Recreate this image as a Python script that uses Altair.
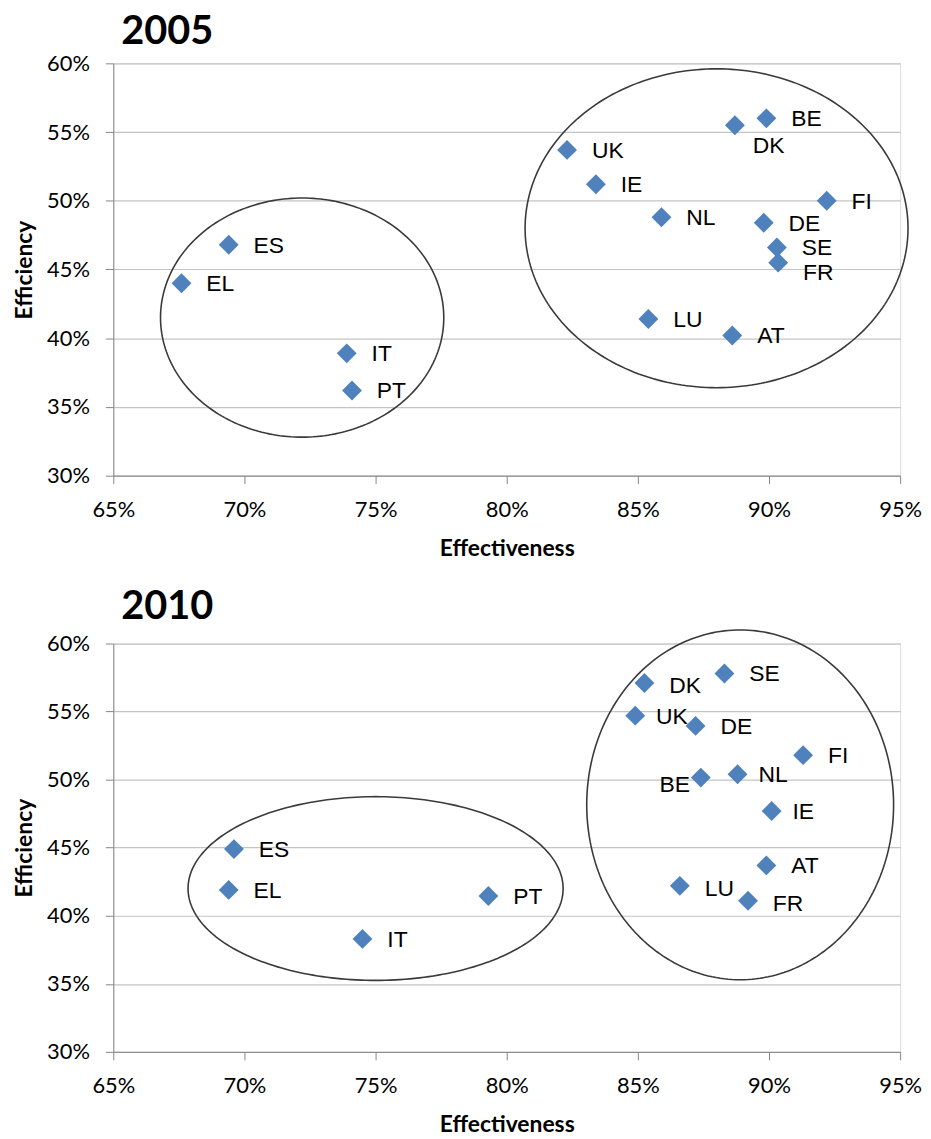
import altair as alt
import numpy as np
import pandas as pd

# ---------------- data (percent) ----------------
countries_2005 = ["ES", "EL", "IT", "PT", "BE", "DK", "UK", "IE", "FI", "NL", "DE", "SE", "FR", "LU", "AT"]
effectiveness_2005 = [69.4, 67.6, 73.9, 74.1, 89.9, 88.7, 82.3, 83.4, 92.2, 85.9, 89.8, 90.3, 90.35, 85.4, 88.6]
efficiency_2005 = [46.8, 44.0, 38.9, 36.2, 56.0, 55.5, 53.7, 51.2, 50.0, 48.8, 48.4, 46.6, 45.5, 41.4, 40.2]

countries_2010 = ["ES", "EL", "IT", "PT", "DK", "SE", "UK", "DE", "FI", "BE", "NL", "IE", "AT", "LU", "FR"]
effectiveness_2010 = [69.6, 69.4, 74.5, 79.3, 85.25, 88.3, 84.9, 87.2, 91.3, 87.4, 88.8, 90.1, 89.9, 86.6, 89.2]
efficiency_2010 = [44.9, 41.9, 38.3, 41.45, 57.1, 57.8, 54.7, 53.95, 51.8, 50.15, 50.4, 47.7, 43.7, 42.2, 41.1]

# group ellipses: centre and radii, in percent
ellipse_cx_2005 = [72.2, 88.0]
ellipse_cy_2005 = [41.5, 48.0]
ellipse_rx_2005 = [5.4, 7.3]
ellipse_ry_2005 = [8.7, 11.6]

ellipse_cx_2010 = [75.0, 88.9]
ellipse_cy_2010 = [42.0, 48.15]
ellipse_rx_2010 = [7.15, 5.85]
ellipse_ry_2010 = [6.75, 12.85]

x_ticks = [0.65, 0.70, 0.75, 0.80, 0.85, 0.90, 0.95]
y_ticks = [0.30, 0.35, 0.40, 0.45, 0.50, 0.55, 0.60]

# label placement tweaks (style, not data): country -> (dx, dy, align)
nudges_2005 = {"DK": (18, 21, "left"), "FR": (25, 10, "left")}
nudges_2010 = {"BE": (-11, 7, "right"), "UK": (21, 1, "left"),
               "NL": (21, 1, "left"), "IE": (21, 1, "left"),
               "DK": (25, 3, "left"), "FR": (25, 3, "left"), "LU": (25, 3, "left")}

AXIS_GREY = "#868686"
GRID_GREY = "#c4c4c4"
BLUE = "#4F81BD"


def ellipse_frame(cxs, cys, rxs, rys):
    t = np.linspace(0, 2 * np.pi, 241)
    rows = []
    for i, (cx, cy, rx, ry) in enumerate(zip(cxs, cys, rxs, rys)):
        for k, tt in enumerate(t):
            rows.append({"ell": i, "k": k,
                         "x": (cx + rx * np.cos(tt)) / 100,
                         "y": (cy + ry * np.sin(tt)) / 100})
    return pd.DataFrame(rows)


def panel(year, countries, eff, effi, ecx, ecy, erx, ery, nudges, h):
    pts = pd.DataFrame({"country": countries,
                        "x": [v / 100 for v in eff],
                        "y": [v / 100 for v in effi]})
    ell = ellipse_frame(ecx, ecy, erx, ery)

    x_enc = alt.X("x:Q", title="Effectiveness",
                  scale=alt.Scale(domain=[0.65, 0.95], nice=False, zero=False),
                  axis=alt.Axis(values=x_ticks, format=".0%", grid=False,
                                tickSize=8, tickColor=AXIS_GREY, domainColor=AXIS_GREY,
                                labelFont="Lato", labelFontSize=22, labelColor="black",
                                labelPadding=16, labelFlush=False, labelOverlap=False,
                                titleFont="Lato", titleFontSize=23, titleFontWeight="bold",
                                titleColor="black", titlePadding=17))
    y_enc = alt.Y("y:Q", title="Efficiency",
                  scale=alt.Scale(domain=[0.30, 0.60], nice=False, zero=False),
                  axis=alt.Axis(values=y_ticks, format=".0%", grid=True,
                                gridColor=GRID_GREY, gridWidth=1.2,
                                tickSize=8, tickColor=AXIS_GREY, domainColor=AXIS_GREY,
                                labelFont="Lato", labelFontSize=22, labelColor="black",
                                labelPadding=16, labelFlush=False, labelOverlap=False,
                                titleFont="Lato", titleFontSize=23, titleFontWeight="bold",
                                titleColor="black", titlePadding=10))

    pts_layer = alt.Chart(pts).mark_point(shape="diamond", filled=True, size=400,
                                          color=BLUE, opacity=1, strokeWidth=0
                                          ).encode(x=x_enc, y=y_enc)

    ell_layer = alt.Chart(ell).mark_line(color="#3a3a3a", strokeWidth=1.6,
                                         interpolate="linear", clip=False).encode(
        x=x_enc, y=y_enc, detail="ell:N", order="k:Q")

    special = list(nudges.keys())
    quoted = ",".join("'" + c + "'" for c in special)
    text_base = alt.Chart(pts)
    layers = [ell_layer, pts_layer]
    layers.append(text_base.transform_filter(f"indexof([{quoted}], datum.country) < 0")
                  .mark_text(align="left", baseline="middle", dx=25, dy=1,
                             font="Liberation Sans", fontSize=23, color="black")
                  .encode(x=x_enc, y=y_enc, text="country:N"))
    for c, (dx, dy, al) in nudges.items():
        layers.append(text_base.transform_filter(f"datum.country == '{c}'")
                      .mark_text(align=al, baseline="middle", dx=dx, dy=dy,
                                 font="Liberation Sans", fontSize=23, color="black")
                      .encode(x=x_enc, y=y_enc, text="country:N"))

    return alt.layer(*layers).properties(
        width=792, height=h,
        title=alt.TitleParams(year, anchor="start", frame="group", dx=8, offset=-32,
                              baseline="alphabetic", font="Lato", fontSize=40,
                              fontWeight="bold", color="black"))


p1 = panel("2005", countries_2005, effectiveness_2005, efficiency_2005,
           ellipse_cx_2005, ellipse_cy_2005, ellipse_rx_2005, ellipse_ry_2005, nudges_2005, 415)
p2 = panel("2010", countries_2010, effectiveness_2010, efficiency_2010,
           ellipse_cx_2010, ellipse_cy_2010, ellipse_rx_2010, ellipse_ry_2010, nudges_2010, 411)

chart = alt.vconcat(p1, p2, spacing=25).properties(
    padding={"left": 5, "top": 0, "right": 0, "bottom": 0}
).configure_view(strokeWidth=0).configure(background="white")

chart.save("out.html", embed_options={"renderer": "svg", "actions": False})
